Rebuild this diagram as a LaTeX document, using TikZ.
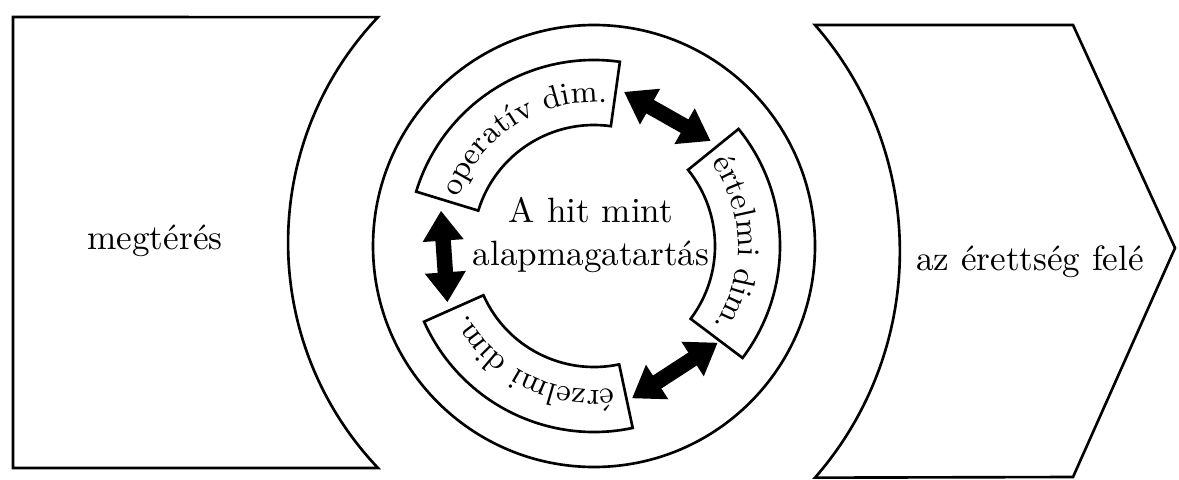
\documentclass[tikz,border=0pt]{standalone}
\usepackage{tikz}
\usetikzlibrary{arrows.meta,decorations.text}

\begin{document}
\begin{tikzpicture}[line width=0.75pt,
  lbl/.style={align=center},
  dimbox/.style={draw,fill=white},
  dimtxt/.style={decorate,decoration={text along path,text align=center,
                 text={|\small|#1}}},
  link/.style={line width=4.4pt,
               {Triangle[length=3mm,width=3.9mm]}-{Triangle[length=3mm,width=3.9mm]}}]
\useasboundingbox (0,0) rectangle (11.79,4.79);
% left block
\draw (0.13,4.62) -- (0.13,0.11) -- (3.78,0.11)
      arc[start angle=223.5,end angle=136.5,radius=3.275cm] -- cycle;
\node[lbl] (conv) at (1.55,2.38) {megtérés};

% right block
\draw (8.15,4.54) arc[start angle=41.1,end angle=-41.1,radius=3.443cm]
      -- (10.73,0.02) -- (11.75,2.31) -- (10.73,4.54) -- cycle;
\node[lbl] (mature) at (10.30,2.17) {az érettség felé};

% middle ring
\node[draw,circle,minimum size=4.42cm,inner sep=0pt] (ring) at (5.94,2.33) {};
\node[lbl] (faith) at (5.91,2.44) {A hit mint\\alapmagatartás};

% the three dimensions
\foreach \a/\b/\t in {163/82/operatív dim.,39/-37/értelmi dim.,282/204/érzelmi dim.}{
  \draw[dimbox] ([shift={(\a:1.86)}]ring.center) arc[start angle=\a,end angle=\b,radius=1.86cm]
        -- ([shift={(\b:1.21)}]ring.center) arc[start angle=\b,end angle=\a,radius=1.21cm] -- cycle;
  \path[dimtxt=\t] ([shift={(\a+12:1.44)}]ring.center)
        arc[start angle=\a+12,end angle=\b-12,radius=1.44cm];
}

% double arrows between them
\coordinate (op1) at ([shift={(79:1.57)}]ring.center);
\coordinate (ert1) at ([shift={(42:1.57)}]ring.center);
\coordinate (ert2) at ([shift={(-38:1.57)}]ring.center);
\coordinate (erz1) at ([shift={(-76:1.57)}]ring.center);
\coordinate (erz2) at ([shift={(201:1.57)}]ring.center);
\coordinate (op2) at ([shift={(167:1.57)}]ring.center);
\draw[link] (op1) -- (ert1);
\draw[link] (ert2) -- (erz1);
\draw[link] (erz2) -- (op2);
\end{tikzpicture}
\end{document}
